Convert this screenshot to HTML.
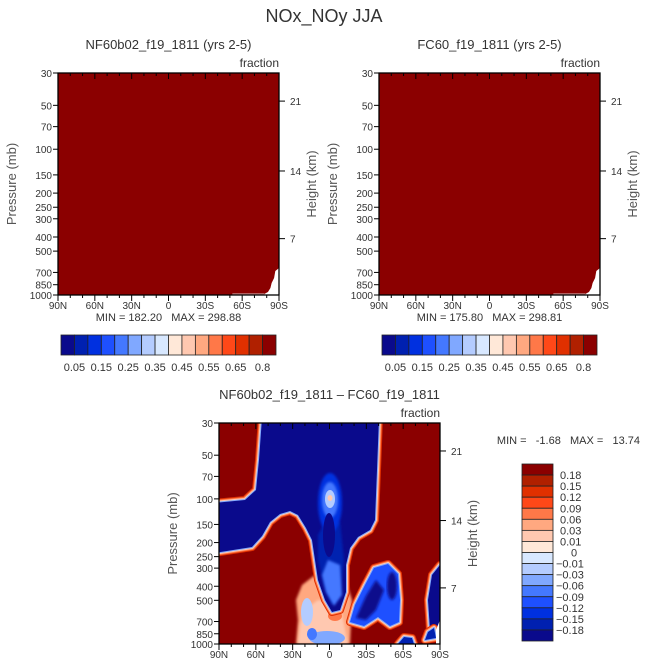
<!DOCTYPE html>
<html><head><meta charset="utf-8"><style>
html,body{margin:0;padding:0;background:#fff;}
svg{display:block;font-family:"Liberation Sans",sans-serif;}
.pre{white-space:pre;}
</style></head><body>
<svg id="fig" width="648" height="668" viewBox="0 0 648 668" xmlns="http://www.w3.org/2000/svg">
<defs>
<clipPath id="clipB"><rect x="219" y="423" width="221" height="221"/></clipPath>
<filter id="soft"><feGaussianBlur stdDeviation="1.2"/></filter>
</defs>
<text x="324" y="22" text-anchor="middle" font-size="18" fill="#333">NOx_NOy JJA</text>
<g id="panels"></g>
</svg>
<script>
const latTicks=[90,60,30,0,-30,-60,-90];
const latLabels=["90N","60N","30N","0","30S","60S","90S"];
const presTicks=[30,50,70,100,150,200,250,300,400,500,700,850,1000];
const kmTicks=[7,14,21];
const topLevels=["0.05","0.15","0.25","0.35","0.45","0.55","0.65","0.8"];
const diffLevels=["0.18","0.15","0.12","0.09","0.06","0.03","0.01","0","-0.01","-0.03","-0.06","-0.09","-0.12","-0.15","-0.18"];
const cmap=["#0a0a8c","#0020b0","#0030e0","#1e50ff","#4478ff","#80a8ff","#b4ccff","#d8e8ff","#ffe8d8","#ffc8b0","#ffa880","#ff7848","#ff4818","#e03000","#b02000","#8b0000"];
const panelTitles=["NF60b02_f19_1811 (yrs 2-5)","FC60_f19_1811 (yrs 2-5)","NF60b02_f19_1811 \u2013 FC60_f19_1811"];
const minmax=[["182.20","298.88"],["175.80","298.81"],["-1.68","13.74"]];
const NS="http://www.w3.org/2000/svg";
const G=document.getElementById('panels');
function el(t,a,p){const e=document.createElementNS(NS,t);for(const k in a)e.setAttribute(k,a[k]);(p||G).appendChild(e);return e;}
function txt(x,y,s,size,anchor,p,extra){const e=el('text',Object.assign({x:x,y:y,'font-size':size,'text-anchor':anchor||'start',fill:'#333'},extra||{}),p);e.textContent=s;return e;}
function kmToP(h){h*=1000;return h<=11000?1013.25*Math.pow(1-2.25577e-5*h,5.25588):226.32*Math.exp(-0.000157688*(h-11000));}
function axes(x0,y0,w,h,idx){
  const g=el('g',{});
  
  
  const xs=lat=>x0+(90-lat)/180*w;
  const ys=p=>y0+h*Math.log10(p/30)/Math.log10(1000/30);
  return {g,xs,ys};
}
function frame(P,x0,y0,w,h,idx){
  const {g,xs,ys}=P;
  el('rect',{x:x0,y:y0,width:w,height:h,fill:'none',stroke:'#000','stroke-width':1.3},g);
  for(let l=90;l>=-90;l-=10){
    const major=l%30===0, len=major?6:3;
    el('line',{x1:xs(l),x2:xs(l),y1:y0,y2:y0+len,stroke:'#000'},g);
    el('line',{x1:xs(l),x2:xs(l),y1:y0+h,y2:y0+h+len,stroke:'#000'},g);
  }
  latTicks.forEach((l,i)=>{const t=txt(xs(l),y0+h+14,latLabels[i],10,'middle',g);});
  presTicks.forEach(p=>{
    el('line',{x1:x0-5,x2:x0,y1:ys(p),y2:ys(p),stroke:'#000'},g);
    const t=txt(x0-6,ys(p)+4,String(p),10,'end',g);
    
    
  });
  kmTicks.forEach(k=>{
    const y=ys(kmToP(k));
    el('line',{x1:x0+w,x2:x0+w+6,y1:y,y2:y,stroke:'#000'},g);
    const t=txt(x0+w+11,y+4,String(k),10,'start',g);
    
    
  });
  const yt=txt(0,0,'Pressure (mb)',13,'middle',g,{transform:`translate(${x0-42},${y0+h/2}) rotate(-90)`,fill:'#555'});
  
  const ht=txt(0,0,'Height (km)',13,'middle',g,{transform:`translate(${x0+w+37},${y0+h/2}) rotate(-90)`,fill:'#555'});
  
  const ft=txt(x0+w,y0-6,'fraction',12,'end',g);
  
  const tt=txt(x0+w/2,y0-24,panelTitles[idx],13,'middle',g);
  
}
// top panels
[[58,0],[379,1]].forEach(([x0,idx])=>{
  const y0=73,w=221,h=222;
  const P=axes(x0,y0,w,h,idx);
  el('rect',{x:x0,y:y0,width:w,height:h,fill:'#8b0000'},P.g);
  const xs=P.xs;
  el('path',{d:`M${xs(-90)},${y0+h} L${xs(-90)},${y0+h-27} L${xs(-87)},${y0+h-24} L${xs(-86)},${y0+h-17} L${xs(-84)},${y0+h-12} L${xs(-83)},${y0+h-7} L${xs(-81)},${y0+h-3} L${xs(-78)},${y0+h-1} L${xs(-78)},${y0+h} Z`,fill:'#fff'},P.g);
  el('line',{x1:xs(-52),x2:xs(-78),y1:y0+h-1,y2:y0+h-1,stroke:'#c08080','stroke-width':1.5},P.g);
  frame(P,x0,y0,w,h,idx);
  const mm=txt(x0+w/2,y0+h+26,'MIN = '+minmax[idx][0]+'   MAX = '+minmax[idx][1],11,'middle',P.g,{'class':'pre'});
  
  const cb=el('g',{});
  
  
  const cx=x0+3,cw=215/16;
  cmap.forEach((c,i)=>el('rect',{x:cx+i*cw,y:335,width:cw,height:20,fill:c,stroke:'#222','stroke-width':0.8},cb));
  topLevels.forEach((s,i)=>txt(cx+(2*i+1)*cw,371,s,11,'middle',cb));
});
// bottom panel
const x0=219,y0=423,w=221,h=221;
const P=axes(x0,y0,w,h,2);
const f=el('g',{'clip-path':'url(#clipB)'},P.g);
el('rect',{x:x0,y:y0,width:w,height:h,fill:'#8b0000'},f);
function blob(d,layers){
  layers.forEach(([c,sw])=>el('path',{d:d,fill:sw?'none':c,stroke:sw?c:'none','stroke-width':sw||0,'stroke-linejoin':'round'},f));
}
const halo=[["#e03000",8],["#ff7848",6],["#ffc8b0",4],["#80a8ff",2]];
el('path',{d:"M296,644 L298,620 L296,600 L302,585 L315,575 L345,578 L352,600 L350,644 Z",fill:"#ffa880",filter:"url(#soft)"},f);
el('path',{d:"M298,644 L300,625 L304,610 L318,600 L340,604 L348,644 Z",fill:"#ffc8b0",filter:"url(#soft)"},f);
el('ellipse',{cx:307,cy:612,rx:6,ry:14,fill:"#b4ccff"},f);
el('ellipse',{cx:327,cy:638,rx:18,ry:7,fill:"#80a8ff"},f);
el('ellipse',{cx:335,cy:616,rx:7,ry:5,fill:"#ff7848"},f);
el('ellipse',{cx:312,cy:634,rx:5,ry:6,fill:"#4478ff"},f);
const mainD="M262,418 L379,418 L377,470 L375,520 L370,530 L358,537 L350,548 L346,565 L346,592 L340,610 L332,612 L325,600 L318,580 L315,560 L312,540 L306,528 L298,515 L290,511 L280,514 L270,522 L262,536 L252,547 L214,553 L214,503 L245,500 L256,490 L259,460 Z";
blob(mainD,halo.concat([["#0a0a8c",0]]));
el('path',{d:"M318,535 L326,520 L340,522 L344,560 L340,595 L332,605 L324,585 L318,560 Z",fill:"#0020b0",filter:"url(#soft)"},f);
el('path',{d:"M322,575 L328,560 L340,565 L342,595 L334,606 L326,592 Z",fill:"#4478ff",filter:"url(#soft)"},f);
el('ellipse',{cx:330,cy:503,rx:12,ry:30,fill:"#0030e0",filter:"url(#soft)"},f);
el('ellipse',{cx:330,cy:500,rx:8,ry:18,fill:"#4478ff",filter:"url(#soft)"},f);
el('ellipse',{cx:330,cy:499,rx:5,ry:9,fill:"#b4ccff"},f);
el('ellipse',{cx:330,cy:498,rx:2.5,ry:3,fill:"#ffc8b0"},f);
el('ellipse',{cx:329,cy:535,rx:6,ry:22,fill:"#0a0a8c"},f);
const rD="M350,622 L355,605 L365,585 L374,568 L388,564 L398,574 L400,600 L399,622 L390,626 L378,617 L364,626 Z";
blob(rD,halo.concat([["#1e50ff",0]]));
el('path',{d:"M356,618 L366,596 L376,580 L384,590 L376,610 L366,620 Z",fill:"#0a0a8c",filter:"url(#soft)"},f);
el('ellipse',{cx:392,cy:586,rx:5,ry:14,fill:"#0a0a8c",filter:"url(#soft)"},f);
blob("M430,630 L428,600 L432,575 L440,565 L446,566 L446,640 Z",halo.concat([["#0a0a8c",0]]));
blob("M425,640 L428,632 L434,628 L436,638 Z",halo.concat([["#0020b0",0]]));
blob("M398,644 L404,637 L412,638 L414,644 Z",halo.concat([["#0020b0",0]]));
el('path',{d:"M436,644 L436,630 L440,620 L441,644 Z",fill:"#fff"},f);
frame(P,x0,y0,w,h,2);
const mm=txt(640,444,'MIN =   -1.68   MAX =   13.74',11,'end',P.g,{'class':'pre'});

const cb=el('g',{});


const cy=464,ch=177/16;
cmap.slice().reverse().forEach((c,i)=>el('rect',{x:522,y:cy+i*ch,width:31,height:ch,fill:c,stroke:'#222','stroke-width':0.8},cb));
diffLevels.forEach((s,i)=>txt(s.startsWith('-')?556:s==='0'?571:560,cy+(i+1)*ch+4,s.replace('-','\u2212'),11,'start',cb));
</script>
</body></html>
